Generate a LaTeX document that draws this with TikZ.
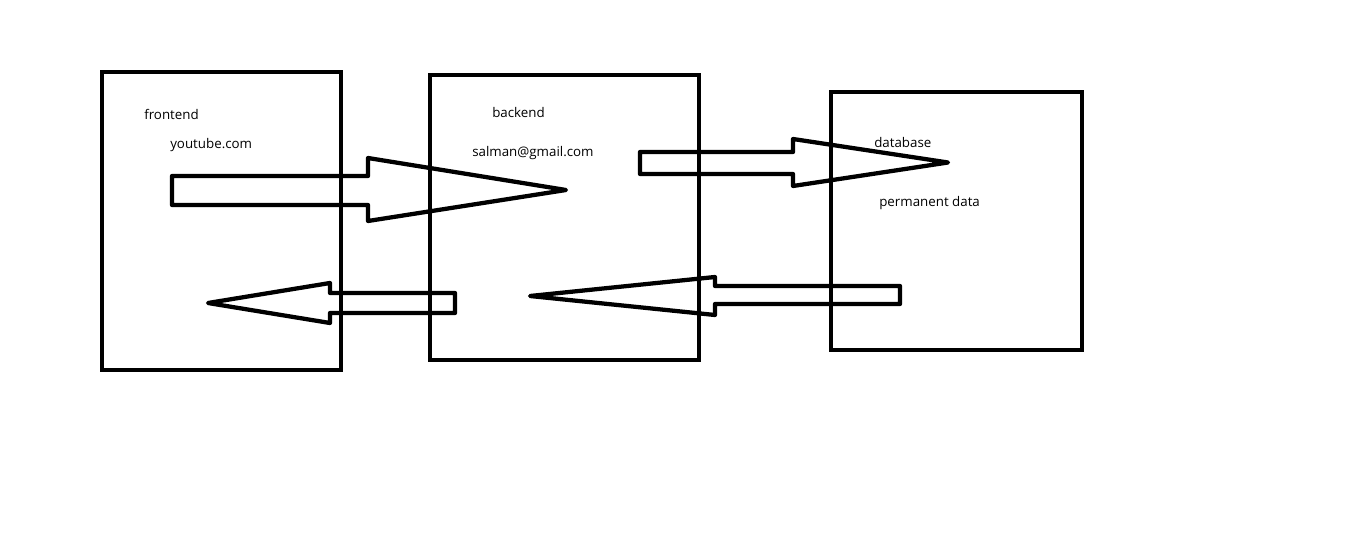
\documentclass[tikz,border=0pt]{standalone}
\usepackage{fontspec}
\setmainfont{Open Sans}
\usetikzlibrary{fit}
\begin{document}
\begin{tikzpicture}[x=0.75pt,y=-0.75pt,
  box/.style={draw=black,line width=3.4pt,inner sep=0pt,outer sep=0pt},
  blockarrow/.style={draw=black,line width=3.2pt,line join=round},
  lbl/.style={anchor=west,inner sep=0pt,font=\fontsize{10pt}{12pt}\selectfont,text=black}]
\useasboundingbox (0,0) rectangle (1346,545);
\fill[white] (0,0) rectangle (1346,545);
% boxes
\node[box,fit={(102,72) (341,370)}] (frontend) {};
\node[box,fit={(430,75) (699,360)}] (backend) {};
\node[box,fit={(831,92) (1082,350)}] (database) {};
% labels
\node[lbl] (lfront) at (144,114) {frontend};
\node[lbl] (lyt) at (170,145) {youtube.com};
\node[lbl] (lback) at (492,113) {backend};
\node[lbl] (lmail) at (472,153.5) {salman@gmail.com};
\node[lbl] (ldb) at (874,142.5) {database};
\node[lbl] (lperm) at (879,203.5) {permanent data};
% arrows
\draw[blockarrow] (172,176) -- (368,176) -- (368,158) -- (566,190) -- (368,221) -- (368,205) -- (172,205) -- cycle;
\draw[blockarrow] (640,152) -- (793,152) -- (793,139) -- (948,162.5) -- (793,186) -- (793,174) -- (640,174) -- cycle;
\draw[blockarrow] (455,293) -- (330,293) -- (330,283) -- (208,303) -- (330,323) -- (330,313) -- (455,313) -- cycle;
\draw[blockarrow] (900,286) -- (715,286) -- (715,277) -- (530,296) -- (715,315) -- (715,304) -- (900,304) -- cycle;
\end{tikzpicture}
\end{document}
